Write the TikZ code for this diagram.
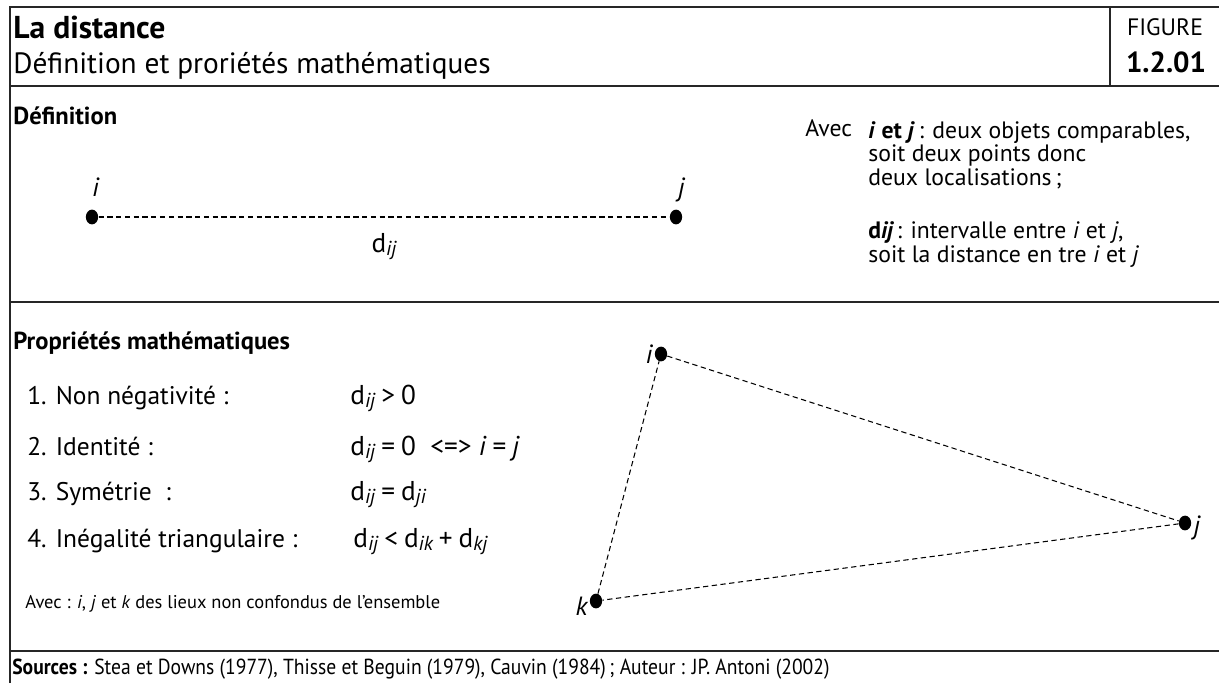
\documentclass[tikz,border=0pt]{standalone}
\usepackage{fontspec}
\setmainfont{PT Sans}
\newfontfamily\condfont[FakeStretch=0.9]{PT Sans}
\usetikzlibrary{positioning,shapes.geometric}
\tikzset{
  cadre/.style={line width=1.3pt,black!85},
  pnt/.style={ellipse,fill=black,minimum width=7pt,minimum height=8.4pt,inner sep=0pt},
  lien/.style={dash pattern=on 3pt off 2pt,line width=0.6pt},
  lbl/.style={font=\fontsize{15}{17}\selectfont\itshape,inner sep=1pt},
  sect/.style={anchor=base west,inner sep=0pt,font=\fontsize{14}{16}\selectfont\bfseries},
  prop/.style={anchor=base west,inner sep=0pt,font=\fontsize{14.5}{17}\selectfont},
  form/.style={anchor=base west,inner sep=0pt,font=\fontsize{15.5}{18}\selectfont}
}
\newcommand{\dist}[1]{d\raisebox{-0.25ex}{\fontsize{11.5}{12}\selectfont\itshape #1}}
\newcommand{\op}[1]{\hspace{0.22em}#1\hspace{0.22em}}

\begin{document}
\begin{tikzpicture}[x=0.02cm,y=-0.02cm]
\useasboundingbox (0,0) rectangle (1219,683);
% cadre
\draw[cadre] (10,683) -- (10,7) -- (1219,7);
\draw[cadre] (1110,7) -- (1110,86);
\draw[cadre] (10,86) -- (1219,86);
\draw[cadre] (10,302) -- (1219,302);
\draw[cadre] (10,651) -- (1219,651);
% en-tete
\node[anchor=base west,inner sep=0pt,font=\fontsize{18}{20}\selectfont\bfseries] (titre) at (13,38) {La distance};
\node[anchor=base west,inner sep=0pt,font=\fontsize{16.7}{19}\selectfont] (soustitre) at (13,73) {Définition et proriétés mathématiques};
\node[anchor=base,inner sep=0pt,font=\fontsize{13.5}{15}\selectfont] (fig) at (1165,35) {FIGURE};
\node[anchor=base,inner sep=0pt,font=\fontsize{16.5}{18}\selectfont\bfseries] (num) at (1166,72) {1.2.01};
% definition
\node[sect] (defn) at (13,124) {Définition};
\node[pnt] (i) at (92,217) {};
\node[pnt] (j) at (676,217) {};
\draw[lien] (i) -- (j) node[midway,below=9pt,inner sep=0pt,font=\fontsize{15.5}{18}\selectfont] (dij) {\dist{ij}};
\node[lbl,above=6pt of i,xshift=2pt] (li) {i};
\node[lbl,above=3pt of j,xshift=3pt] (lj) {j};
\node[anchor=base west,inner sep=0pt,font=\fontsize{13.5}{15}\selectfont] (avec) at (805,136) {Avec};
\node[anchor=north west,inner sep=0pt,align=left,font=\fontsize{13.5}{13.4}\selectfont] (expl) at (868,121)
  {\textbf{\textit{i} et \textit{j}}\,: deux objets comparables,\\
   soit deux points donc\\
   deux localisations\,;\\[17pt]
   \textbf{d}{\bfseries\itshape ij}\,: intervalle entre \textit{i} et \textit{j},\\
   soit la distance en tre \textit{i} et \textit{j}};
% proprietes
\node[sect] (propr) at (13,349) {Propriétés mathématiques};
\node[prop] (p1) at (27,404) {1. Non négativité :};
\node[prop] (p2) at (27,455) {2. Identité :};
\node[prop] (p3) at (27,500) {3. Symétrie\ \ :};
\node[prop] (p4) at (27,547) {4. Inégalité triangulaire :};
\node[form] (f1) at (350,404) {\dist{ij}\op{>}0};
\node[form] (f2) at (350,455) {\dist{ij}\op{=}0\ \ <=>\ \textit{i}\op{=}\textit{j}};
\node[form] (f3) at (350,500) {\dist{ij}\op{=}\dist{ji}};
\node[form] (f4) at (353,547) {\dist{ij}\op{<}\dist{ik}\op{+}\dist{kj}};
\node[anchor=base west,inner sep=0pt,font=\fontsize{10.5}{12}\selectfont] (note) at (25,608)
  {Avec : \textit{i}, \textit{j} et \textit{k} des lieux non confondus de l'ensemble};
% triangle
\node[pnt] (ti) at (661,354) {};
\node[pnt] (tj) at (1185,523) {};
\node[pnt] (tk) at (596,601) {};
\draw[lien] (ti) -- (tj) -- (tk) -- (ti);
\node[lbl,left=0pt of ti] (lti) {i};
\node[lbl,right=0pt of tj,yshift=-3pt] (ltj) {j};
\node[lbl,left=0pt of tk,yshift=-3pt] (ltk) {k};
% sources
\node[anchor=base west,inner sep=0pt,font=\condfont\fontsize{12.4}{14}\selectfont] (src) at (12,674)
  {\textbf{Sources :} Stea et Downs (1977), Thisse et Beguin (1979), Cauvin (1984)\,; Auteur : JP. Antoni (2002)};
\end{tikzpicture}
\end{document}
